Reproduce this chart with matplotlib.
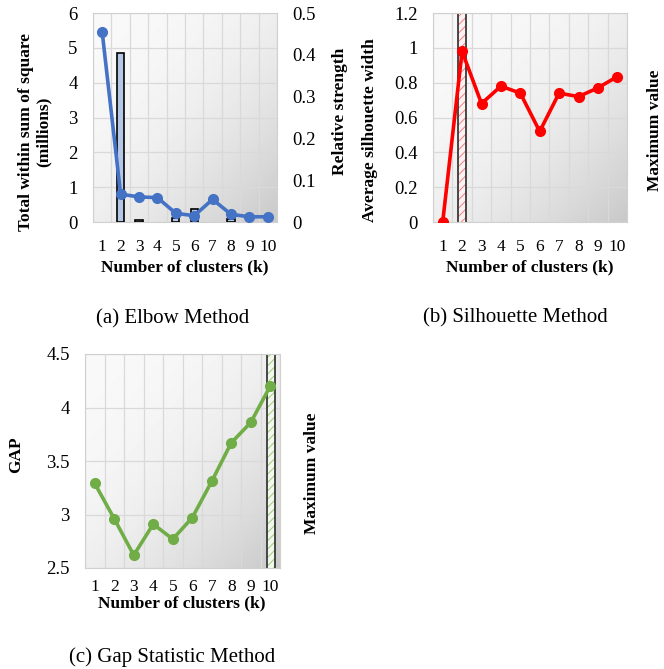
import numpy as np
import matplotlib
matplotlib.use("Agg")
import matplotlib.pyplot as plt

plt.rcParams['font.family'] = ['Liberation Serif', 'DejaVu Serif']
plt.rcParams['hatch.linewidth'] = 0.7

# data
k = np.arange(1, 11)
wss = [5.45, 0.80, 0.72, 0.70, 0.25, 0.18, 0.65, 0.22, 0.15, 0.15]
strength = [0.0, 0.405, 0.004, 0.0, 0.010, 0.032, 0.0, 0.006, 0.0, 0.0]
silhouette = [0.0, 0.98, 0.68, 0.78, 0.74, 0.52, 0.74, 0.72, 0.77, 0.835]
gap = [3.29, 2.96, 2.62, 2.91, 2.77, 2.97, 3.31, 3.67, 3.86, 4.20]
best_sil = 2
best_gap = 10

W, H = 664, 669


def box(left, top, right, bottom):
    """ pixel box -> figure fraction rect """
    return [left / W, 1 - bottom / H, (right - left) / W, (bottom - top) / H]


def background(ax):
    """ light grey diagonal gradient, darkest in the bottom right corner """
    xx, yy = np.meshgrid(np.linspace(0, 1, 200), np.linspace(0, 1, 200))
    t = np.clip((xx + yy) / 2, 0, 1) ** 2.2
    img = 0.975 - 0.19 * t
    ax.imshow(img, extent=(0, 1, 0, 1), transform=ax.transAxes, cmap='gray',
              vmin=0, vmax=1, aspect='auto', zorder=0,
              interpolation='bilinear', origin='upper')


def style(ax, ylim, yticks, ylabels):
    ax.set_xlim(0.5, 10.5)
    ax.set_ylim(*ylim)
    ax.set_xticks(k)
    ax.set_xticks(np.arange(0.5, 11, 1), minor=True)
    ax.set_yticks(yticks)
    ax.set_yticklabels(ylabels)
    ax.grid(True, which='minor', axis='x', color='#D9D9D9', lw=0.9)
    ax.grid(True, which='major', axis='y', color='#D9D9D9', lw=0.9)
    ax.set_axisbelow(True)
    ax.tick_params(which='both', length=0)
    ax.tick_params(axis='y', labelsize=13.5, pad=11)
    ax.tick_params(axis='x', labelsize=12.5, pad=12)
    for s in ax.spines.values():
        s.set_color('#D0D0D0')
    background(ax)


def band(ax, x0, x1, tint, color):
    ax.axvspan(x0, x1, facecolor=tint, edgecolor=color, hatch='////',
               lw=0, zorder=1)
    ax.axvline(x0, color='#3A3A3A', lw=1.3, zorder=2)
    ax.axvline(x1, color='#3A3A3A', lw=1.3, zorder=2)


def label(text, x, y, rot=90, size=12.5, weight='bold'):
    fig.text(x / W, 1 - y / H, text, rotation=rot, fontsize=size,
             fontweight=weight, ha='center', va='center', linespacing=1.1)


fig = plt.figure(figsize=(W / 100, H / 100), dpi=100)

# (a) Elbow method
ax1 = fig.add_axes(box(93, 13, 277, 222))
style(ax1, (0, 6), range(7), [str(v) for v in range(7)])
ax1b = ax1.twinx()
ax1b.set_ylim(0, 0.5)
ax1b.set_yticks([0, 0.1, 0.2, 0.3, 0.4, 0.5])
ax1b.set_yticklabels(['0', '0.1', '0.2', '0.3', '0.4', '0.5'])
ax1b.tick_params(length=0, labelsize=13.5, pad=11)
for s in ax1b.spines.values():
    s.set_visible(False)
has_bar = np.array(strength) > 0
ax1b.bar(k[has_bar], np.array(strength)[has_bar], width=0.4,
         color='#B4C7E7', edgecolor='black', lw=1.2, zorder=2)
ax1b.plot(k, np.array(wss) / 12, color='#4472C4', lw=2.6, marker='o',
          ms=7, zorder=3)
label('Total within sum of square\n(millions)', 35, 132)
label('Relative strength', 340, 111)
label('Number of clusters (k)', 185, 267, rot=0)

# (b) Silhouette method
ax2 = fig.add_axes(box(433, 13, 627, 222))
style(ax2, (0, 1.2), [0, 0.2, 0.4, 0.6, 0.8, 1.0, 1.2],
      ['0', '0.2', '0.4', '0.6', '0.8', '1', '1.2'])
band(ax2, best_sil - 0.22, best_sil + 0.22, '#FDF0F0', '#F08080')
ax2.plot(k, silhouette, color='#FF0000', lw=2.6, marker='o', ms=7, zorder=3)
label('Average silhouette width', 370, 130)
label('Number of clusters (k)', 530, 267, rot=0)
label('Maximum value', 655, 130)

# (c) Gap statistic
ax3 = fig.add_axes(box(85, 354, 280, 568))
style(ax3, (2.5, 4.5), [2.5, 3, 3.5, 4, 4.5],
      ['2.5', '3', '3.5', '4', '4.5'])
band(ax3, best_gap - 0.18, best_gap + 0.24, '#F2F8EC', '#9CCB7A')
ax3.plot(k, gap, color='#70AD47', lw=2.6, marker='o', ms=7, zorder=3)
ax3.tick_params(axis='x', pad=8)
label('GAP', 16, 455)
label('Number of clusters (k)', 182, 603, rot=0)
label('Maximum value', 312, 473)

# captions
label('(a) Elbow Method', 173, 319, rot=0, size=15, weight='normal')
label('(b) Silhouette Method', 515, 318, rot=0, size=15, weight='normal')
label('(c) Gap Statistic Method', 172, 657, rot=0, size=15, weight='normal')

fig.savefig('out.png', dpi=100)
